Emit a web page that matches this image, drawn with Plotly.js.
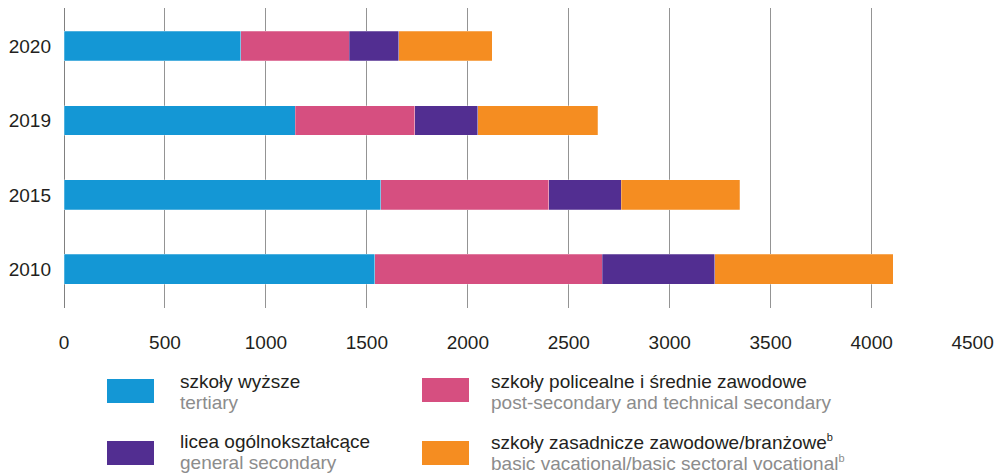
<!DOCTYPE html>
<html><head><meta charset="utf-8">
<script src="https://cdn.plot.ly/plotly-3.0.1.min.js"></script>
<style>body{margin:0;background:#fff}#c{width:995px;height:473px}</style>
</head><body><div id="c"></div>
<script>
const years = ["2010", "2015", "2019", "2020"];
const tertiary = [1538, 1568, 1145, 876];
const postSecTech = [1128, 833, 593, 536];
const generalSec = [556, 360, 310, 246];
const basicVoc = [886, 585, 596, 463];
const supB = "<sup><span style='font-size:11px'>b</span></sup>";
const seriesPL = ["szkoły wyższe", "szkoły policealne i średnie zawodowe", "licea ogólnokształcące", "szkoły zasadnicze zawodowe/branżowe" + supB];
const seriesEN = ["tertiary", "post-secondary and technical secondary", "general secondary", "basic vacational/basic sectoral vocational" + supB];
const colors = ["#1497d5", "#d64f80", "#522e91", "#f58d21"];
const xTicks = [0, 500, 1000, 1500, 2000, 2500, 3000, 3500, 4000, 4500];

const vals = [tertiary, postSecTech, generalSec, basicVoc];
const traces = vals.map((v, i) => ({
  type: "bar", orientation: "h", y: years, x: v, name: seriesPL[i],
  marker: {color: colors[i], line: {color: "rgba(255,255,255,0.5)", width: 0.5}},
  showlegend: false, hoverinfo: "x"
}));

// legend layout in pixels -> paper
const L = 64, W = 909, B = 308, H = 300;
const px = x => (x - L) / W, py = y => (B - y) / H;
const legPos = [
  {sx: 107, sy: 379, tx: 178, y1: 381, y2: 402},
  {sx: 422, sy: 378, tx: 489, y1: 381, y2: 402},
  {sx: 107, sy: 441, tx: 178, y1: 441.5, y2: 462.5},
  {sx: 422, sy: 441, tx: 489, y1: 441.5, y2: 462.5}
];
const shapes = [], annotations = [];
legPos.forEach((p, i) => {
  shapes.push({type: "rect", xref: "paper", yref: "paper", x0: px(p.sx), x1: px(p.sx + 47), y0: py(p.sy), y1: py(p.sy + 24), fillcolor: colors[i], line: {width: 0}});
  annotations.push({xref: "paper", yref: "paper", x: px(p.tx), y: py(p.y1), xanchor: "left", yanchor: "middle", showarrow: false, text: seriesPL[i], font: {size: 19, color: "#231f20"}});
  annotations.push({xref: "paper", yref: "paper", x: px(p.tx), y: py(p.y2), xanchor: "left", yanchor: "middle", showarrow: false, text: seriesEN[i], font: {size: 19, color: "#8c8c8c"}});
});

const layout = {
  width: 995, height: 473,
  margin: {l: 64, r: 22, t: 8, b: 165},
  barmode: "stack", bargap: 0.6,
  font: {family: "'Liberation Sans', Arial, sans-serif", size: 19, color: "#231f20"},
  paper_bgcolor: "#fff", plot_bgcolor: "#fff",
  xaxis: {range: [0, 4502], tickvals: xTicks, ticktext: xTicks.map(String), showgrid: true, gridcolor: "#949494", gridwidth: 1,
          zeroline: true, zerolinecolor: "#808080", zerolinewidth: 1, showline: false, ticks: "", ticklabelstandoff: 21, fixedrange: true},
  yaxis: {type: "category", categoryarray: years, range: [-0.52, 3.51], showgrid: false, zeroline: false, showline: false, ticks: "", ticklabelstandoff: 12, fixedrange: true},
  shapes: shapes, annotations: annotations
};
Plotly.newPlot("c", traces, layout, {displayModeBar: false, staticPlot: true});
</script></body></html>
